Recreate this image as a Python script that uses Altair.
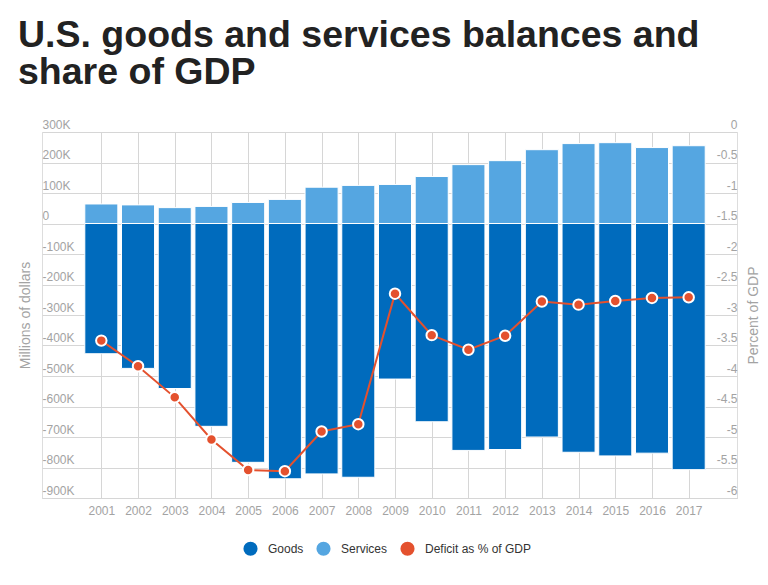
import altair as alt
import pandas as pd

years = list(range(2001, 2018))
goods = [-427, -475, -541, -665, -783, -837, -821, -832, -510, -650, -744, -741, -700, -750, -762, -753, -807]
services = [64, 61, 52, 56, 69, 79, 119, 125, 128, 154, 193, 206, 242, 262, 265, 249, 255]
deficit_pct = [-3.42, -3.84, -4.35, -5.04, -5.54, -5.56, -4.91, -4.79, -2.65, -3.33, -3.57, -3.34, -2.78, -2.83, -2.77, -2.72, -2.71]

series_names = ["Goods", "Services", "Deficit as % of GDP"]
series_colors = ["#006bbd", "#55a6e1", "#e4512e"]

bars = pd.DataFrame(
    {"year": years * 2,
     "value": [g * 1000 for g in goods] + [s * 1000 for s in services],
     "series": ["Goods"] * len(years) + ["Services"] * len(years)}
)
line = pd.DataFrame({"year": years, "pct": deficit_pct})

FONT = "Liberation Sans"
GRAY = "#a3a3a3"
GRID = "#d6d6d6"

x_scale = alt.Scale(domain=[1999.384, 2018.316], nice=False, zero=False)
color_scale = alt.Scale(domain=series_names, range=series_colors)

x_axis = alt.Axis(values=years, format="d", grid=True, gridColor=GRID, ticks=False,
                  domainColor=GRID, labelColor=GRAY, labelFont=FONT, labelFontSize=12,
                  labelPadding=7, title=None)

bar_layer = alt.Chart(bars).transform_calculate(
    x0="datum.year - 0.45", x1="datum.year + 0.45"
).mark_bar(stroke="white", strokeWidth=1).encode(
    x=alt.X("x0:Q", scale=x_scale, axis=x_axis),
    x2="x1:Q",
    y=alt.Y("value:Q", stack=None,
            scale=alt.Scale(domain=[-900000, 300000], nice=False),
            axis=alt.Axis(values=list(range(-900000, 300001, 100000)), grid=True, gridColor=GRID,
                          ticks=False, domain=False, labelAlign="left", labelPadding=0,
                          labelBaseline="alphabetic", labelOffset=-4,
                          labelExpr="datum.value == 0 ? '0' : (datum.value < 0 ? '-' : '') + format(abs(datum.value) / 1000, 'd') + 'K'",
                          labelColor=GRAY, labelFont=FONT, labelFontSize=12,
                          title="Millions of dollars", titleColor=GRAY, titleFont=FONT,
                          titleFontSize=14, titleFontWeight="normal", titleX=-17,
                          titleBaseline="middle", titleAngle=270)),
    y2=alt.datum(0),
    color=alt.Color("series:N", scale=color_scale,
                    legend=alt.Legend(title=None, orient="none", direction="horizontal",
                                      legendX=201, legendY=409, symbolType="circle",
                                      symbolSize=200, symbolStrokeWidth=0, labelFont=FONT,
                                      labelFontSize=12, labelColor="#333333", labelOffset=10,
                                      columnPadding=12)),
)

pct_scale = alt.Scale(domain=[-6, 0], nice=False)
pct_axis = alt.Axis(orient="right", values=[v / 2 for v in range(-12, 1)], grid=False, ticks=False,
                    domain=False, labelAlign="right", labelPadding=0, labelBaseline="alphabetic",
                    labelOffset=-4,
                    labelExpr="datum.value == 0 ? '0' : '-' + format(abs(datum.value), '~g')",
                    labelColor=GRAY, labelFont=FONT, labelFontSize=12,
                    title="Percent of GDP", titleColor=GRAY, titleFont=FONT, titleFontSize=14,
                    titleFontWeight="normal", titleX=16, titleBaseline="middle", titleAngle=270)

line_layer = alt.Chart(line).mark_line(
    strokeWidth=2, color="#e4512e",
    point=alt.OverlayMarkDef(filled=True, size=110, fill="#e4512e", stroke="white",
                             strokeWidth=2, opacity=1),
).encode(
    x=alt.X("year:Q", scale=x_scale, axis=x_axis),
    y=alt.Y("pct:Q", scale=pct_scale, axis=pct_axis),
)

chart = alt.layer(bar_layer, line_layer).resolve_scale(
    y="independent"
).properties(
    width=695,
    height=366,
    autosize=alt.AutoSizeParams(type="none"),
    padding={"left": 34, "top": 124, "right": 23, "bottom": 79},
    title=alt.Title(
        text=["U.S. goods and services balances and", "share of GDP"],
        anchor="start", frame="group", font="Liberation Sans", fontSize=37.5,
        fontWeight="bold", color="#222222", lineHeight=37, dx=-24, dy=-7, offset=20,
    ),
).configure_view(strokeWidth=0).configure(background="white")

chart.save("out.html", embed_options={"renderer": "svg", "actions": False})
